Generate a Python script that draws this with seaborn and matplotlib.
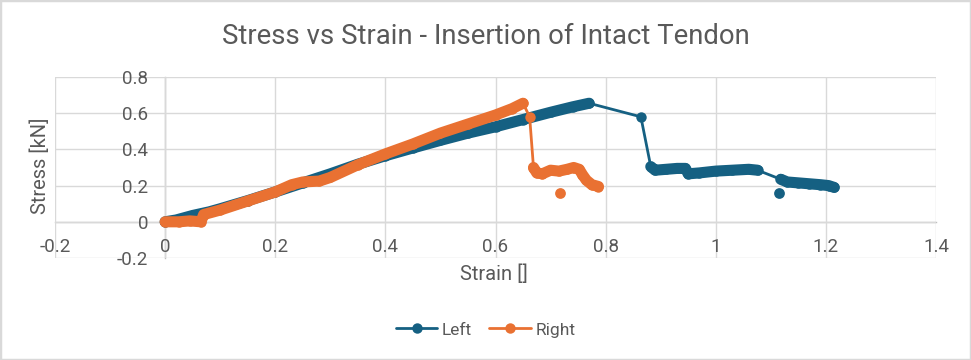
"""
Stress vs strain curves for the insertion of an intact tendon (left/right).
Excel-style look: axes crossing at zero, light gridlines, legend below.
"""

import matplotlib
matplotlib.use("Agg")
import matplotlib.pyplot as plt
from matplotlib.patches import Rectangle
from matplotlib.ticker import FuncFormatter
import seaborn as sns

# ---- data ----
# Left specimen: dense loading ramp, one point on the way down,
# then the first plateau and the tail after the second drop.
LEFT_RISE_STRAIN = [0.0, 0.02, 0.05, 0.08, 0.1, 0.15, 0.2, 0.25, 0.3, 0.35,
                    0.4, 0.45, 0.5, 0.55, 0.6, 0.65, 0.7, 0.74, 0.77]
LEFT_RISE_STRESS = [0.0, 0.01, 0.035, 0.055, 0.072, 0.117, 0.165, 0.215, 0.265,
                    0.318, 0.365, 0.408, 0.45, 0.49, 0.525, 0.565, 0.605, 0.635, 0.655]
LEFT_KNEE_STRAIN = [0.864]
LEFT_KNEE_STRESS = [0.58]
LEFT_PLATEAU_STRAIN = [0.882, 0.89, 0.91, 0.93, 0.945, 0.95, 0.97, 1.0, 1.03,
                       1.06, 1.076]
LEFT_PLATEAU_STRESS = [0.305, 0.285, 0.29, 0.295, 0.295, 0.265, 0.27, 0.28,
                       0.285, 0.29, 0.285]
LEFT_TAIL_STRAIN = [1.118, 1.13, 1.15, 1.17, 1.19, 1.205, 1.215]
LEFT_TAIL_STRESS = [0.235, 0.22, 0.215, 0.21, 0.205, 0.2, 0.19]
LEFT_OUTLIER_STRAIN = [1.115]
LEFT_OUTLIER_STRESS = [0.16]

# Right specimen
RIGHT_RISE_STRAIN = [0.0, 0.025, 0.045, 0.065, 0.07, 0.1, 0.15, 0.2, 0.23,
                     0.25, 0.28, 0.3, 0.35, 0.4, 0.45, 0.5, 0.55, 0.6, 0.63, 0.65]
RIGHT_RISE_STRESS = [0.0, 0.0, 0.005, 0.0, 0.04, 0.065, 0.115, 0.165, 0.205,
                     0.22, 0.225, 0.245, 0.315, 0.375, 0.43, 0.49, 0.54, 0.59,
                     0.625, 0.655]
RIGHT_KNEE_STRAIN = [0.662]
RIGHT_KNEE_STRESS = [0.58]
RIGHT_PLATEAU_STRAIN = [0.669, 0.675, 0.685, 0.70, 0.715, 0.73, 0.742, 0.752,
                        0.758, 0.765, 0.775, 0.787]
RIGHT_PLATEAU_STRESS = [0.30, 0.27, 0.265, 0.285, 0.28, 0.29, 0.30, 0.29,
                        0.26, 0.23, 0.205, 0.195]
RIGHT_OUTLIER_STRAIN = [0.718]
RIGHT_OUTLIER_STRESS = [0.16]

X_TICKS = [-0.2, 0.0, 0.2, 0.4, 0.6, 0.8, 1.0, 1.2, 1.4]
Y_TICKS = [-0.2, 0.0, 0.2, 0.4, 0.6, 0.8]

BLUE = "#156082"
ORANGE = "#E97132"
TEXT = "#595959"
GRID = "#D9D9D9"
FONT = ["Roboto", "DejaVu Sans"]


def draw_series(ax, pieces, outlier, color, label):
    """Thin line + markers through every point, thick band over dense runs."""
    strain = [v for xs, _ in pieces for v in xs]
    stress = [v for _, ys in pieces for v in ys]
    sns.lineplot(x=strain, y=stress, sort=False, estimator=None, color=color,
                 linewidth=2.0, marker="o", markersize=7.5, markeredgewidth=0,
                 label=label, ax=ax)
    for xs, ys in pieces:
        if len(xs) > 1:
            sns.lineplot(x=xs, y=ys, sort=False, estimator=None, color=color,
                         linewidth=8, solid_capstyle="round",
                         solid_joinstyle="round", legend=False, ax=ax)
    sns.scatterplot(x=outlier[0], y=outlier[1], color=color, s=60,
                    linewidth=0, legend=False, ax=ax)


def main() -> None:
    sns.set_style("white")
    plt.rcParams["font.family"] = FONT

    fig = plt.figure(figsize=(9.71, 3.6), dpi=100)
    ax = fig.add_axes([55 / 971, 1 - 258 / 360, 881 / 971, 181 / 360])

    draw_series(
        ax,
        [(LEFT_RISE_STRAIN, LEFT_RISE_STRESS),
         (LEFT_KNEE_STRAIN, LEFT_KNEE_STRESS),
         (LEFT_PLATEAU_STRAIN, LEFT_PLATEAU_STRESS),
         (LEFT_TAIL_STRAIN, LEFT_TAIL_STRESS)],
        (LEFT_OUTLIER_STRAIN, LEFT_OUTLIER_STRESS),
        BLUE, "Left",
    )
    draw_series(
        ax,
        [(RIGHT_RISE_STRAIN, RIGHT_RISE_STRESS),
         (RIGHT_KNEE_STRAIN, RIGHT_KNEE_STRESS),
         (RIGHT_PLATEAU_STRAIN, RIGHT_PLATEAU_STRESS)],
        (RIGHT_OUTLIER_STRAIN, RIGHT_OUTLIER_STRESS),
        ORANGE, "Right",
    )

    ax.set_xlim(-0.2, 1.4)
    ax.set_ylim(-0.2, 0.8)
    ax.set_xticks(X_TICKS)
    ax.set_yticks(Y_TICKS)
    fmt = FuncFormatter(lambda v, _: f"{round(v, 1):g}")
    ax.xaxis.set_major_formatter(fmt)
    ax.yaxis.set_major_formatter(fmt)
    ax.grid(True, color=GRID, linewidth=1.0)
    ax.set_axisbelow(True)

    # axes cross at zero, like Excel
    for side in ("top", "right"):
        ax.spines[side].set_visible(False)
    for side in ("left", "bottom"):
        ax.spines[side].set_position(("data", 0))
        ax.spines[side].set_color("#BFBFBF")
        ax.spines[side].set_linewidth(1.0)
        ax.spines[side].set_zorder(0.5)
    ax.tick_params(axis="both", length=0, labelsize=13.5, labelcolor=TEXT)
    ax.tick_params(axis="x", pad=12)
    ax.tick_params(axis="y", pad=12)
    ax.set_xlabel("")
    ax.set_ylabel("")

    fig.text(0.5, 1 - 37 / 360, "Stress vs Strain - Insertion of Intact Tendon",
             ha="center", va="center", fontsize=19.8, color=TEXT)
    fig.text(494 / 971, 1 - 274 / 360, "Strain []", ha="center", va="center",
             fontsize=14.5, color=TEXT)
    fig.text(40 / 971, 1 - 166 / 360, "Stress [kN]", ha="center", va="center",
             rotation=90, fontsize=14.5, color=TEXT)

    ax.legend(loc="center", bbox_to_anchor=(0.5, 1 - 330 / 360),
              bbox_transform=fig.transFigure, ncol=2, frameon=False,
              fontsize=12.5, labelcolor=TEXT, handlelength=2.4,
              handletextpad=0.25, columnspacing=1.0)

    fig.patches.append(Rectangle((0, 0), 1, 1, transform=fig.transFigure,
                                 fill=False, edgecolor=GRID, linewidth=2.5))
    fig.savefig("out.png", dpi=100)
    plt.close(fig)


if __name__ == "__main__":
    main()
